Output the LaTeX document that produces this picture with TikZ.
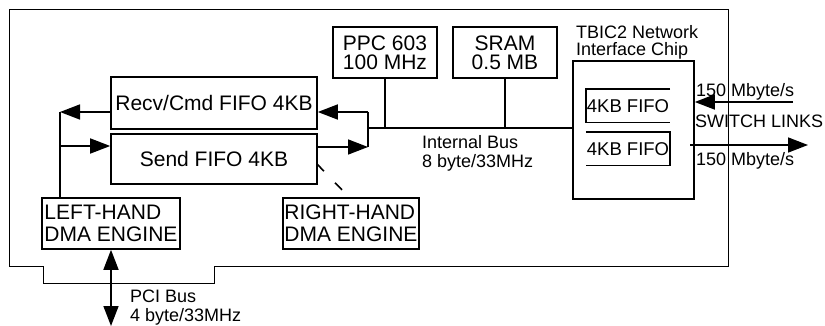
\documentclass[tikz,border=0pt]{standalone}
\usepackage{fontspec}
\setmainfont{Liberation Sans}
\usetikzlibrary{positioning,arrows.meta}

\begin{document}
\begin{tikzpicture}[x=1pt, y=-1pt, >={Triangle[length=20pt,width=15pt]},
	box/.style = {draw, line width=1.6pt, inner sep=0pt, font=\fontsize{21}{19}\selectfont, align=center},
	dma/.style = {box, align=left, minimum height=51pt, font=\fontsize{21}{22}\selectfont},
	lbl/.style = {inner sep=0pt, anchor=north west, font=\fontsize{18}{19}\selectfont, align=left},
	fifo/.style = {inner sep=0pt, minimum width=84pt, minimum height=33pt, font=\fontsize{18.5}{19}\selectfont},
	wire/.style = {line width=1.6pt}]
	\useasboundingbox (0,0) rectangle (825,326);

	% board outline
	\draw[line width=0.8pt] (9,9) -- (728,9) -- (728,266) -- (214,266) -- (214,283) -- (43,283) -- (43,266) -- (9,266) -- cycle;

	\node[box, minimum width=206pt, minimum height=52pt] (recv) at (214,103) {Recv/Cmd FIFO 4KB};
	\node[box, minimum width=206pt, minimum height=50pt] (send) at (214,159) {Send FIFO 4KB};
	\node[box, minimum width=104pt, minimum height=51pt] (ppc) at (385,52.5) {PPC 603\\100 MHz};
	\node[box, minimum width=104pt, minimum height=51pt] (sram) at (505,52.5) {SRAM\\0.5 MB};
	\node[box, minimum width=121pt, minimum height=138pt] (chip) at (633.5,130) {};
	\node[dma, minimum width=138pt] (ldma) at (111,223.5) {LEFT-HAND\\DMA ENGINE};
	\node[dma, minimum width=136pt] (rdma) at (351,223.5) {RIGHT-HAND\\DMA ENGINE};

	\node[fifo] (fifoa) at (628,106) {4KB FIFO};
	\node[fifo] (fifob) at (628,149) {4KB FIFO};

	% labels
	\node[lbl, font=\fontsize{18}{17}\selectfont] (tbic) at (576,25) {TBIC2 Network\\Interface Chip};
	\node[lbl] (ibus) at (422,135) {Internal Bus\\8 byte/33MHz};
	\node[lbl] (pci) at (130,290) {PCI Bus\\4 byte/33MHz};
	\node[lbl] (ratein) at (696,83) {150 Mbyte/s};
	\node[lbl] (swl) at (695,115) {SWITCH LINKS};
	\node[lbl] (rateout) at (696,152) {150 Mbyte/s};

	\coordinate (busl) at (368,128);
	\coordinate (jtop) at (368,112);
	\coordinate (jbot) at (368,147);
	\coordinate (ltop) at (60,112);
	\coordinate (lmid) at (60,146);
	\coordinate (dsa) at (317,164);
	\coordinate (dsb) at (345,193);
	\coordinate (pcib) at (112,326);
	\coordinate (swin) at (793,102);
	\coordinate (swsrc) at (690,145);
	\coordinate (swout) at (808,145);

	% internal bus
	\draw[wire] (busl) -- (busl -| chip.west);
	\draw[wire] (ppc.south) -- (ppc.south |- busl);
	\draw[wire] (sram.south) -- (sram.south |- busl);
	\draw[wire] (jtop) -- (jbot);
	\draw[wire, ->] (jtop) -- (recv.east |- jtop);
	\draw[wire, ->] (send.east |- jbot) -- (jbot);

	% left-hand side
	\draw[wire] (ltop) -- (ltop |- ldma.north);
	\draw[wire, ->] (recv.west |- ltop) -- (ltop);
	\draw[wire, ->] (lmid) -- (send.west |- lmid);
	\draw[wire, dash pattern=on 10pt off 16pt] (dsa) -- (dsb);
	\draw[wire, <->] (ldma.south) -- (ldma.south |- pcib);

	% chip fifos
	\draw[wire] (fifoa.north east) -- (fifoa.north west) -- (fifoa.south west) -- (fifoa.south east);
	\draw[wire] (fifob.north west) -- (fifob.north east) -- (fifob.south east) -- (fifob.south west);

	% switch links
	\draw[wire, ->] (swin) -- (swin -| chip.east);
	\draw[wire, ->] (swsrc) -- (swout);
\end{tikzpicture}
\end{document}
